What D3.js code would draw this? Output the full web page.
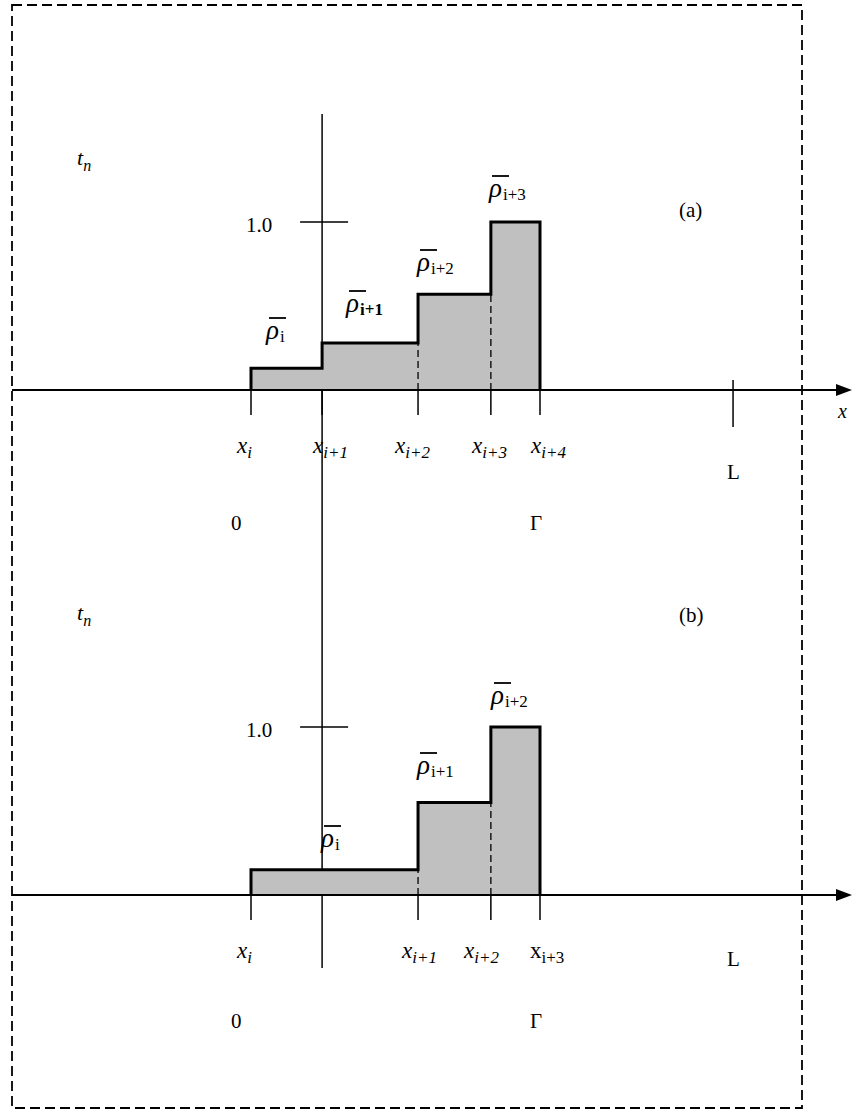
<!DOCTYPE html>
<html>
<head>
<meta charset="utf-8">
<script src="https://cdn.jsdelivr.net/npm/d3@7"></script>
<style>
html, body { margin: 0; padding: 0; background: #fff; }
svg text { font-family: "Liberation Serif", "DejaVu Serif", serif; fill: #000; }
</style>
</head>
<body>
<svg id="chart" width="852" height="1110"></svg>
<script>
// cell edges in units of the domain [0, Gamma] (0 -> x_i, 1 -> Gamma)
var edgesA = [0, 0.246, 0.578, 0.830, 1.0];
var edgesB = [0, 0.578, 0.830, 1.0];
// mean density in each cell
var rhoA = [0.13, 0.28, 0.57, 1.0];
var rhoB = [0.15, 0.55, 1.0];
// labels
var edgeLabelsA = ['i', 'i+1', 'i+2', 'i+3', 'i+4'];
var edgeLabelsB = ['i', 'i+1', 'i+2', 'i+3'];
var rhoSubA = ['i', 'i+1', 'i+2', 'i+3'];
var rhoSubB = ['i', 'i+1', 'i+2'];
var posL = 1.668, posAxis = 0.246;

var svg = d3.select('#chart');
var x = d3.scaleLinear().domain([0, 1]).range([251, 540]);

// dashed frame
svg.append('rect').attr('x', 12).attr('y', 5).attr('width', 790).attr('height', 1103)
	.attr('fill', 'none').attr('stroke', '#000').attr('stroke-width', 1.8)
	.attr('stroke-dasharray', '10,5');

// vertical axis shared by both panels
svg.append('line').attr('x1', x(posAxis)).attr('x2', x(posAxis))
	.attr('y1', 114).attr('y2', 968).attr('stroke', '#000').attr('stroke-width', 1.5);

function panel(opts) {
	var y = d3.scaleLinear().domain([0, 1]).range([opts.y0, opts.y0 - 168]);
	var g = svg.append('g');
	var edges = opts.edges, vals = opts.vals;

	// grey fill
	var pts = vals.map(function(v, i) { return [edges[i], v]; });
	pts.push([edges[edges.length - 1], vals[vals.length - 1]]);
	var area = d3.area().curve(d3.curveStepAfter)
		.x(function(d) { return x(d[0]); })
		.y0(y(0)).y1(function(d) { return y(d[1]); });
	g.append('path').datum(pts).attr('d', area).attr('fill', '#c0c0c0');

	// dashed interior edges
	edges.slice(1, -1).forEach(function(e, k) {
		if (Math.abs(e - posAxis) < 1e-6) return;
		var lo = Math.min(vals[k], vals[k + 1]);
		g.append('line').attr('x1', x(e)).attr('x2', x(e))
			.attr('y1', y(0)).attr('y2', y(lo))
			.attr('stroke', '#000').attr('stroke-width', 1.3).attr('stroke-dasharray', '7,4');
	});

	// ticks under the axis
	edges.forEach(function(e) {
		g.append('line').attr('x1', x(e)).attr('x2', x(e))
			.attr('y1', y(0)).attr('y2', y(0) + 25)
			.attr('stroke', '#000').attr('stroke-width', 1.5);
	});

	// thick step outline
	var outline = [[edges[0], 0]].concat(pts).concat([[edges[edges.length - 1], 0]]);
	var line = d3.line().curve(d3.curveStepAfter)
		.x(function(d) { return x(d[0]); }).y(function(d) { return y(d[1]); });
	g.append('path').datum(outline).attr('d', line).attr('fill', 'none')
		.attr('stroke', '#000').attr('stroke-width', 3).attr('stroke-linejoin', 'miter');

	// x axis with arrow
	g.append('line').attr('x1', 12).attr('x2', 838).attr('y1', y(0)).attr('y2', y(0))
		.attr('stroke', '#000').attr('stroke-width', 2);
	g.append('path').attr('d', 'M836,' + (y(0) - 6) + 'L852,' + y(0) + 'L836,' + (y(0) + 6) + 'Z')
		.attr('fill', '#000');

	// 1.0 tick
	g.append('line').attr('x1', x(posAxis) - 22).attr('x2', x(posAxis) + 26)
		.attr('y1', y(1)).attr('y2', y(1)).attr('stroke', '#000').attr('stroke-width', 1.5);
	g.append('text').attr('x', 246).attr('y', y(1) + 10).attr('font-size', 21).text('1.0');

	// rho labels
	opts.rhoPos.forEach(function(p, i) {
		var t = g.append('text').attr('x', p[0]).attr('y', p[1]).attr('font-size', 27);
		t.append('tspan').attr('font-style', 'italic').text('\u03c1');
		t.append('tspan').attr('dy', 3).attr('dx', 1).attr('font-size', 17)
			.attr('font-weight', opts.boldSub === i ? 'bold' : 'normal').text(opts.rhoSub[i]);
		g.append('line').attr('x1', p[0] + 3).attr('x2', p[0] + 20)
			.attr('y1', p[1] - 21).attr('y2', p[1] - 21).attr('stroke', '#000').attr('stroke-width', 1.8);
	});

	// edge labels
	edges.forEach(function(e, i) {
		var t = g.append('text').attr('x', opts.labX[i]).attr('y', y(0) + opts.labDy)
			.attr('font-size', 23);
		var it = !(opts.plainLast && i === edges.length - 1);
		t.append('tspan').attr('font-style', it ? 'italic' : 'normal').text('x');
		t.append('tspan').attr('dy', 5).attr('font-size', 17)
			.attr('font-style', it ? 'italic' : 'normal').text(opts.edgeLabels[i]);
	});

	g.append('text').attr('x', x(0) - 20).attr('y', y(0) + opts.zeroDy).attr('font-size', 21).text('0');
	g.append('text').attr('x', x(1) - 10).attr('y', y(0) + opts.zeroDy).attr('font-size', 21).text('\u0393');
	g.append('text').attr('x', x(posL) - 6).attr('y', y(0) + opts.lDy).attr('font-size', 21).text('L');

	var tn = g.append('text').attr('x', 77).attr('y', opts.tnY).attr('font-size', 22).attr('font-style', 'italic');
	tn.append('tspan').text('t');
	tn.append('tspan').attr('dy', 6).attr('font-size', 16).text('n');

	g.append('text').attr('x', 679).attr('y', opts.tagY).attr('font-size', 21).text(opts.tag);
	return y;
}

var yA = panel({
	y0: 390, edges: edgesA, vals: rhoA, rhoSub: rhoSubA, boldSub: 1,
	rhoPos: [[266, 339], [346, 312], [417, 271], [489, 197]],
	edgeLabels: edgeLabelsA, labX: [237, 313, 395, 472, 531], labDy: 63,
	zeroDy: 140, lDy: 89, tnY: 165, tag: '(a)', tagY: 217
});
// tick at L and axis label, panel (a) only
svg.append('line').attr('x1', x(posL)).attr('x2', x(posL)).attr('y1', yA(0) - 10).attr('y2', yA(0) + 37)
	.attr('stroke', '#000').attr('stroke-width', 1.5);
svg.append('text').attr('x', 838).attr('y', 418).attr('font-size', 20).attr('font-style', 'italic').text('x');

panel({
	y0: 895, edges: edgesB, vals: rhoB, rhoSub: rhoSubB, boldSub: -1,
	rhoPos: [[321, 847], [417, 774], [491, 704]],
	edgeLabels: edgeLabelsB, labX: [237, 402, 464, 530], labDy: 63, plainLast: true,
	zeroDy: 133, lDy: 71, tnY: 620, tag: '(b)', tagY: 622
});
</script>
</body>
</html>
